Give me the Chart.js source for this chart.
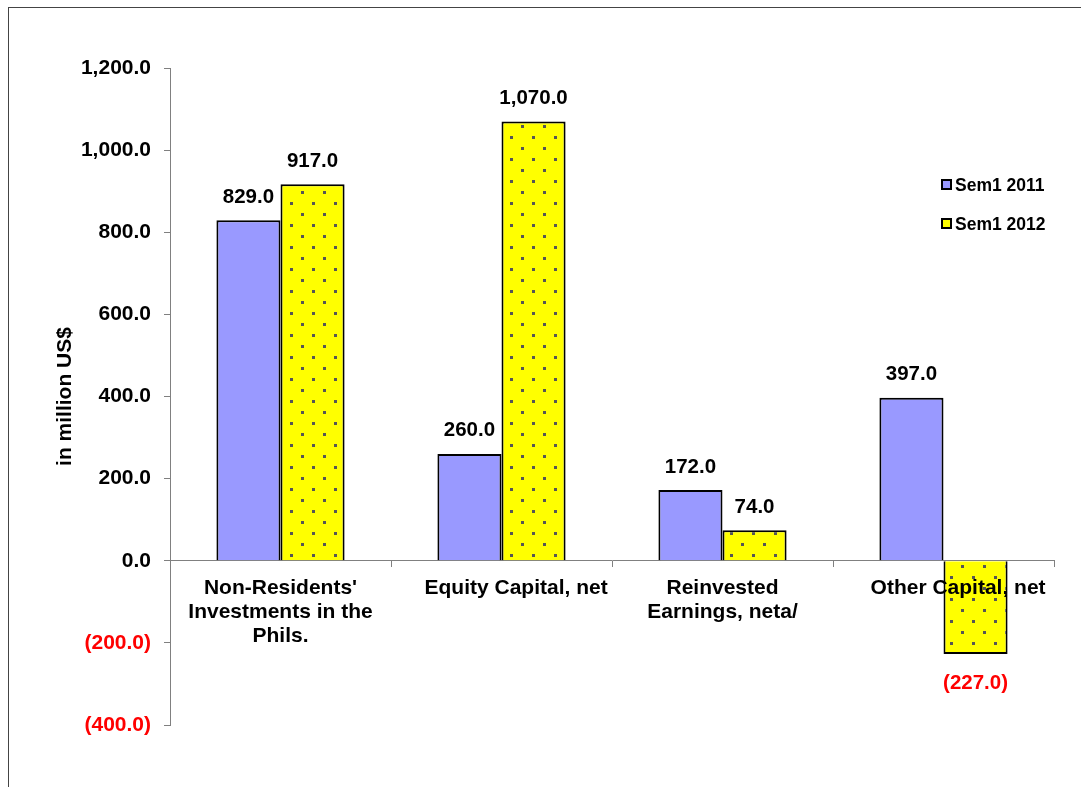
<!DOCTYPE html>
<html>
<head>
<meta charset="utf-8">
<script src="https://cdn.jsdelivr.net/npm/chart.js@4/dist/chart.umd.min.js"></script>
<style>
  html, body { margin: 0; padding: 0; background: #fff; }
  #wrap { position: relative; width: 1081px; height: 787px; }
  #frame {
    position: absolute; left: 8px; top: 7px; right: -2px; bottom: -2px;
    border-top: 1px solid #444; border-left: 1px solid #444;
  }
  #legend {
    position: absolute; left: 941px; top: 173px;
    font: bold 17.5px "Liberation Sans", Arial, sans-serif; color: #000;
  }
  #legend div { height: 39px; line-height: 24px; white-space: nowrap; }
  #legend span.box {
    display: inline-block; width: 7px; height: 7px; border: 2px solid #000;
    margin-right: 3px; vertical-align: 1px;
  }
</style>
</head>
<body>
<div id="wrap">
  <div id="frame"></div>
  <canvas id="chart"></canvas>
  <div id="legend"></div>
</div>
<script>
const categories = [
  ["Non-Residents'", "Investments in the", "Phils."],
  "     Equity Capital, net",
  ["Reinvested", "Earnings, neta/"],
  "     Other Capital, net"
];
const seriesNames = ["Sem1 2011", "Sem1 2012"];
const sem2011 = [829.0, 260.0, 172.0, 397.0];
const sem2012 = [917.0, 1070.0, 74.0, -227.0];
const yTicks = [-400, -200, 0, 200, 400, 600, 800, 1000, 1200];

const FONT = '"Liberation Sans", Arial, sans-serif';
const BLUE = "#9999ff";
const YELLOW = "#ffff00";

// Yellow fill with staggered grey dots
function dottedPattern() {
  const tile = document.createElement("canvas");
  tile.width = 22;
  tile.height = 22;
  const c = tile.getContext("2d");
  c.fillStyle = YELLOW;
  c.fillRect(0, 0, 22, 22);
  c.fillStyle = "#555";
  c.fillRect(4, 4, 3, 3);
  c.fillRect(15, 15, 3, 3);
  return c.createPattern(tile, "repeat");
}

function fmt(v) {
  const s = Math.abs(v).toLocaleString("en-US", { minimumFractionDigits: 1, maximumFractionDigits: 1 });
  return v < 0 ? "(" + s + ")" : s;
}

// Values written above positive bars, below negative ones
const valueLabels = {
  id: "valueLabels",
  afterDatasetsDraw(chart) {
    const ctx = chart.ctx;
    ctx.save();
    ctx.font = "bold 20.5px " + FONT;
    ctx.textAlign = "center";
    chart.data.datasets.forEach((ds, i) => {
      chart.getDatasetMeta(i).data.forEach((bar, j) => {
        const v = ds.data[j];
        if (v < 0) {
          ctx.fillStyle = "#ff0000";
          ctx.textBaseline = "top";
          ctx.fillText(fmt(v), bar.x, bar.y + 19);
        } else {
          ctx.fillStyle = "#000";
          ctx.textBaseline = "bottom";
          ctx.fillText(fmt(v), bar.x, bar.y - 13);
        }
      });
    });
    ctx.restore();
  }
};

const canvas = document.getElementById("chart");
const pattern = dottedPattern();

new Chart(canvas, {
  type: "bar",
  data: {
    labels: categories,
    datasets: [
      { label: seriesNames[0], data: sem2011, backgroundColor: BLUE, borderColor: "#000", borderWidth: 2 },
      { label: seriesNames[1], data: sem2012, backgroundColor: pattern, borderColor: "#000", borderWidth: 2 }
    ]
  },
  options: {
    responsive: true,
    maintainAspectRatio: false,
    animation: false,
    categoryPercentage: 0.58,
    barPercentage: 1.0,
    layout: { padding: { left: 53, right: 27, top: 68, bottom: 62 } },
    plugins: {
      legend: { display: false },
      tooltip: { enabled: false }
    },
    scales: {
      x: {
        position: { y: 0 },
        grid: {
          offset: true,
          drawOnChartArea: false,
          drawTicks: true,
          tickLength: 6,
          color: "#808080"
        },
        border: { color: "#808080", width: 1 },
        ticks: {
          z: 1,
          color: "#000",
          font: { family: FONT, size: 21, weight: "bold", lineHeight: 1.15 },
          maxRotation: 0,
          autoSkip: false,
          padding: 9
        }
      },
      y: {
        min: -400,
        max: 1200,
        afterBuildTicks(scale) {
          scale.ticks = yTicks.map(v => ({ value: v }));
        },
        afterFit(scale) {
          scale.width = 117;
        },
        grid: {
          drawOnChartArea: false,
          drawTicks: true,
          tickLength: 6,
          color: "#808080"
        },
        border: { color: "#808080", width: 1 },
        ticks: {
          padding: 13,
          font: { family: FONT, size: 21, weight: "bold" },
          color: ctx => (ctx.tick && ctx.tick.value < 0 ? "#ff0000" : "#000"),
          callback: v => fmt(v)
        },
        title: {
          display: true,
          text: "in million US$",
          color: "#000",
          font: { family: FONT, size: 21, weight: "bold" },
          padding: 0
        }
      }
    }
  },
  plugins: [valueLabels]
});

// Legend placed inside the plot, to the right
const legend = document.getElementById("legend");
seriesNames.forEach((name, i) => {
  const row = document.createElement("div");
  const box = document.createElement("span");
  box.className = "box";
  box.style.background = i === 0 ? BLUE : YELLOW;
  row.appendChild(box);
  row.appendChild(document.createTextNode(name));
  legend.appendChild(row);
});
</script>
</body>
</html>
